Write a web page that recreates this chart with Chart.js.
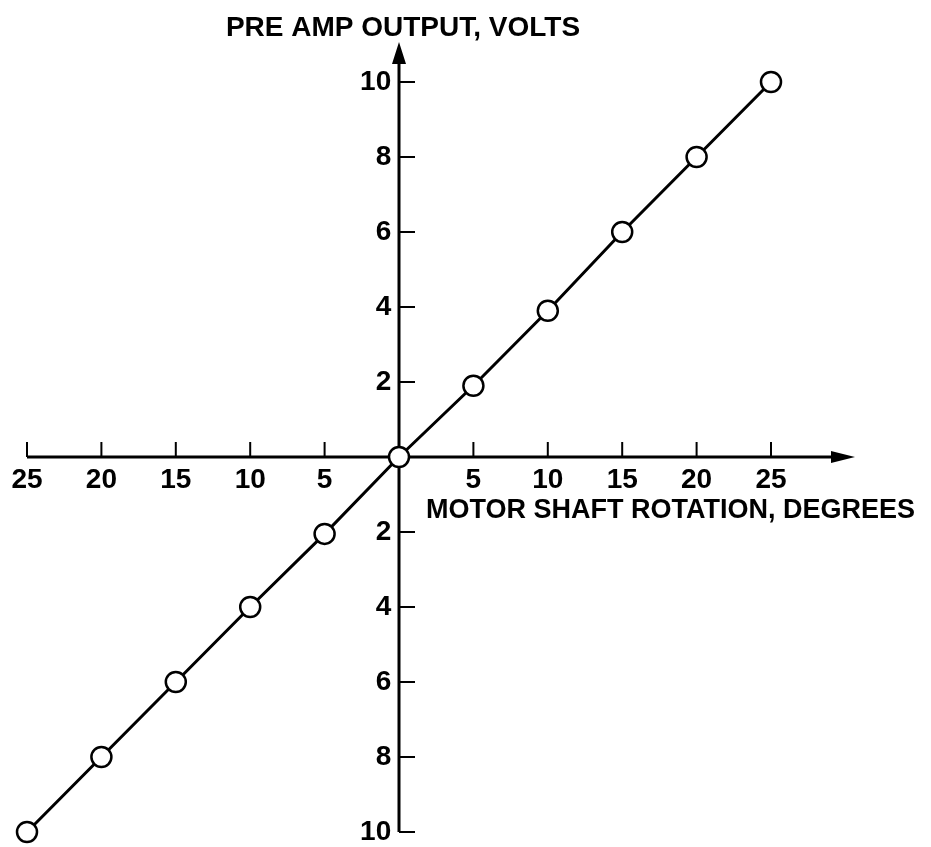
<!DOCTYPE html>
<html>
<head>
<meta charset="utf-8">
<script src="https://cdn.jsdelivr.net/npm/chart.js@4.4.1/dist/chart.umd.min.js"></script>
<style>
  html, body { margin: 0; padding: 0; background: #fff; }
  #wrap { width: 931px; height: 847px; }
</style>
</head>
<body>
<div id="wrap"><canvas id="chart"></canvas></div>
<script>
// datos
const rotation = [-25, -20, -15, -10, -5, 0, 5, 10, 15, 20, 25];
const output = [-10, -8, -6, -4, -2.05, 0, 1.9, 3.9, 6, 8, 10];
const xTicks = [-25, -20, -15, -10, -5, 5, 10, 15, 20, 25];
const yTicks = [-10, -8, -6, -4, -2, 2, 4, 6, 8, 10];
const xTitle = 'MOTOR SHAFT ROTATION, DEGREES';
const yTitle = 'PRE AMP OUTPUT, VOLTS';

const FONT = { family: 'Liberation Sans', size: 28, weight: 'bold' };

// ejes con flechas y marcas, dibujados antes de los puntos
const axesPlugin = {
  id: 'axes',
  beforeDatasetsDraw(chart) {
    const { ctx, chartArea, scales: { x, y } } = chart;
    const x0 = x.getPixelForValue(0);
    const y0 = y.getPixelForValue(0);
    const left = x.getPixelForValue(-25);
    const bottom = y.getPixelForValue(-10);
    const xTip = chartArea.right + 84;
    const yTip = chartArea.top - 40;
    ctx.save();
    ctx.strokeStyle = '#000';
    ctx.fillStyle = '#000';
    ctx.lineWidth = 3;
    ctx.beginPath();
    ctx.moveTo(left, y0); ctx.lineTo(xTip - 10, y0);
    ctx.moveTo(x0, bottom); ctx.lineTo(x0, yTip + 10);
    ctx.stroke();
    // flechas
    ctx.beginPath();
    ctx.moveTo(xTip, y0); ctx.lineTo(xTip - 24, y0 - 6); ctx.lineTo(xTip - 24, y0 + 6); ctx.closePath();
    ctx.moveTo(x0, yTip); ctx.lineTo(x0 - 7, yTip + 22); ctx.lineTo(x0 + 7, yTip + 22); ctx.closePath();
    ctx.fill();
    // marcas
    ctx.lineWidth = 2;
    ctx.beginPath();
    xTicks.forEach(v => {
      const px = x.getPixelForValue(v);
      ctx.moveTo(px, y0); ctx.lineTo(px, y0 - 15);
    });
    yTicks.forEach(v => {
      const py = y.getPixelForValue(v);
      ctx.moveTo(x0, py); ctx.lineTo(x0 + 16, py);
    });
    ctx.stroke();
    // titulos
    ctx.textBaseline = 'middle';
    ctx.font = `${FONT.weight} ${FONT.size}px ${FONT.family}`;
    ctx.textAlign = 'center';
    ctx.fillText(yTitle, x0 + 4, chartArea.top - 54);
    ctx.font = `${FONT.weight} 27px ${FONT.family}`;
    ctx.textAlign = 'left';
    ctx.fillText(xTitle, x0 + 27, y0 + 54);
    ctx.restore();
  }
};

// quitar el relleno automatico que deja la escala
const noPad = s => { s.paddingTop = 0; s.paddingBottom = 0; s.paddingLeft = 0; s.paddingRight = 0; };

new Chart(document.getElementById('chart'), {
  type: 'scatter',
  data: {
    datasets: [{
      data: rotation.map((r, i) => ({ x: r, y: output[i] })),
      showLine: true,
      borderColor: '#000',
      borderWidth: 3,
      pointRadius: 10,
      pointHoverRadius: 10,
      pointBorderWidth: 2.5,
      pointBackgroundColor: '#fff',
      pointBorderColor: '#000',
      clip: false
    }]
  },
  options: {
    responsive: true,
    maintainAspectRatio: false,
    animation: false,
    layout: { autoPadding: false, padding: { left: 27, right: 160, top: 82, bottom: 15 } },
    plugins: { legend: { display: false }, tooltip: { enabled: false } },
    scales: {
      x: {
        type: 'linear',
        min: -25, max: 25,
        position: { y: 0 },
        afterBuildTicks: s => { s.ticks = xTicks.map(v => ({ value: v })); },
        afterFit: noPad,
        grid: { display: false, drawTicks: false },
        border: { display: false },
        ticks: {
          color: '#000', font: FONT, padding: 6, maxRotation: 0, autoSkip: false,
          callback: v => String(Math.abs(v))
        }
      },
      y: {
        type: 'linear',
        min: -10, max: 10,
        position: { x: 0 },
        afterBuildTicks: s => { s.ticks = yTicks.map(v => ({ value: v })); },
        afterFit: noPad,
        grid: { display: false, drawTicks: false },
        border: { display: false },
        ticks: {
          color: '#000', font: FONT, padding: 8, autoSkip: false,
          callback: v => Math.abs(v) + ' '
        }
      }
    }
  },
  plugins: [axesPlugin]
});
</script>
</body>
</html>
